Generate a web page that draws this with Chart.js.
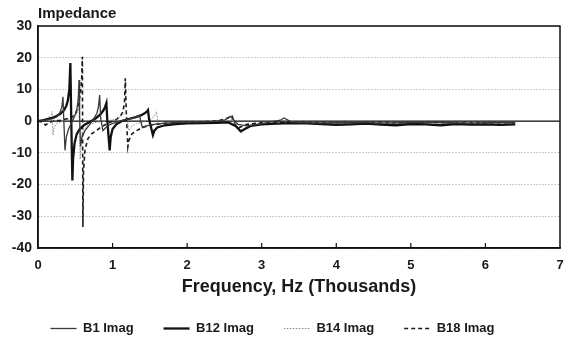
<!DOCTYPE html>
<html>
<head>
<meta charset="utf-8">
<script src="https://cdn.jsdelivr.net/npm/chart.js@4.4.1/dist/chart.umd.min.js"></script>
<style>
html,body{margin:0;padding:0;background:#fff;}
#wrap{width:567px;height:341px;}
</style>
</head>
<body>
<div id="wrap"><canvas id="c" width="567" height="341"></canvas></div>
<script>
// ---- data (frequency in thousands of Hz, impedance imaginary part) ----
const yTickValues = [-40, -30, -20, -10, 0, 10, 20, 30];
const xTickValues = [0, 1, 2, 3, 4, 5, 6, 7];
const seriesNames = ['B1 Imag', 'B12 Imag', 'B14 Imag', 'B18 Imag'];

const b1Freq = [0, 0.1, 0.2, 0.25, 0.29, 0.32, 0.335, 0.345, 0.362, 0.38, 0.41, 0.45, 0.49, 0.52, 0.54, 0.55, 0.558, 0.57, 0.59, 0.63, 0.68, 0.74, 0.79, 0.81, 0.827, 0.84, 0.87, 0.91, 0.97, 1.05, 1.15, 1.25, 1.32, 1.35, 1.363, 1.375, 1.4, 1.45, 1.55, 1.7, 1.9, 2.1, 2.3, 2.5, 2.58, 2.62, 2.68, 2.8, 3.0, 3.25, 3.3, 3.4, 3.7, 4.0, 4.3, 4.6, 4.9, 5.2, 5.5, 5.8, 6.1, 6.4];
const b1Imag = [0, 0.3, 0.8, 1.3, 2.5, 4.5, 7.7, 1, -9.2, -5, -2.5, -0.5, 1.5, 3.5, 7, 13, 2, -8, -5, -3, -1.5, 0.5, 2.5, 4.5, 8.2, 1, -3, -2, -1, -0.3, 0.3, 0.8, 1.4, 1.7, 1.9, 0.2, -2, -1.5, -1, -0.6, -0.4, -0.3, -0.2, 0.3, 1.5, 0.5, -1, -1.5, -0.8, 0.3, 1, -0.3, -0.6, -0.5, -0.4, -0.6, -0.5, -0.3, -0.5, -0.6, -0.4, -0.5];

const b12Freq = [0, 0.05, 0.1, 0.15, 0.2, 0.25, 0.3, 0.35, 0.38, 0.4, 0.42, 0.434, 0.445, 0.461, 0.47, 0.49, 0.52, 0.56, 0.62, 0.7, 0.78, 0.84, 0.88, 0.9, 0.917, 0.93, 0.961, 0.975, 1.0, 1.05, 1.12, 1.2, 1.3, 1.38, 1.43, 1.46, 1.475, 1.49, 1.541, 1.56, 1.6, 1.7, 1.85, 2.0, 2.2, 2.4, 2.55, 2.65, 2.72, 2.78, 2.85, 3.0, 3.2, 3.4, 3.6, 3.8, 4.0, 4.2, 4.4, 4.6, 4.8, 5.0, 5.2, 5.4, 5.6, 5.8, 6.0, 6.2, 6.4];
const b12Imag = [0, 0.2, 0.5, 0.8, 1.1, 1.6, 2.3, 3.5, 4.8, 6.5, 10, 18.3, 2, -18.7, -12, -7, -4, -2.5, -1.2, -0.2, 1, 2.2, 3.5, 4.5, 5.7, 0, -9.2, -5, -2.5, -1, 0, 0.6, 1.2, 1.8, 2.5, 3, 3.5, 0.5, -4.4, -3, -2, -1.3, -0.9, -0.7, -0.6, -0.5, -0.4, -1.5, -3.2, -2.4, -1.5, -1, -0.8, -0.6, -0.7, -0.9, -1.2, -1, -0.8, -1.1, -1.3, -0.9, -1, -1.3, -0.9, -1.1, -1, -1.2, -1];

const b14Freq = [0, 0.05, 0.1, 0.15, 0.175, 0.19, 0.2, 0.215, 0.25, 0.3, 0.35, 0.4, 0.45, 0.5, 0.53, 0.55, 0.555, 0.565, 0.58, 0.61, 0.66, 0.72, 0.8, 0.9, 1.0, 1.08, 1.14, 1.18, 1.2, 1.22, 1.26, 1.32, 1.4, 1.5, 1.56, 1.59, 1.61, 1.66, 1.75, 1.9, 2.1, 2.3, 2.5, 2.6, 2.66, 2.72, 2.78, 2.9, 3.1, 3.4, 3.8, 4.2, 4.6, 5.0, 5.4, 5.8, 6.2, 6.4];
const b14Imag = [0, 0.2, 0.5, 1.2, 2, 3, -4.4, -2, -0.8, -0.3, 0, 0.5, 1, 1.8, 2.8, 5, 0, -12, -6, -3, -1.5, -0.8, -0.3, 0, 0.4, 1, 2, 3, 0, -3, -1.5, -0.8, -0.3, 0.5, 1.5, 3, -0.5, -1.5, -0.8, -0.5, -0.4, -0.3, -0.2, 0.5, -1.5, -3.8, -2.5, -1.2, -0.7, -0.5, -0.6, -0.7, -0.5, -0.6, -0.5, -0.6, -0.5, -0.5];

const b18Freq = [0, 0.05, 0.1, 0.15, 0.2, 0.3, 0.4, 0.45, 0.5, 0.54, 0.57, 0.585, 0.595, 0.602, 0.61, 0.63, 0.67, 0.72, 0.78, 0.85, 0.95, 1.05, 1.1, 1.14, 1.16, 1.171, 1.185, 1.205, 1.22, 1.26, 1.32, 1.4, 1.5, 1.65, 1.8, 2.0, 2.2, 2.4, 2.55, 2.6, 2.64, 2.7, 2.8, 3.0, 3.3, 3.6, 4.0, 4.4, 4.8, 5.2, 5.6, 6.0, 6.4];
const b18Imag = [0, -0.3, -1.2, -0.5, 0, 0.3, 0.8, 1.2, 2, 5, 9, 13, 20.3, -33.4, -16, -9, -5.5, -4, -3, -1.8, -0.5, 0.5, 1.5, 3, 6, 13.5, 2, -8.1, -6, -4, -3, -2, -1.3, -0.8, -0.5, -0.3, -0.2, 0, 1, 1.8, -1, -2, -1, -0.5, -0.3, -0.4, -0.5, -0.4, -0.5, -0.4, -0.5, -0.5, -0.5];

function pts(fs, vs) { return fs.map((f, i) => ({x: f, y: vs[i]})); }

const FONT = "'Liberation Sans', Arial, Helvetica, sans-serif";

const decor = {
  id: 'decor',
  afterLayout(chart) {
    if (chart.legend) { chart.legend.left -= 10; chart.legend.right -= 10; }
  },
  beforeDatasetsDraw(chart) {
    const {ctx, chartArea: a, scales: {y}} = chart;
    const y0 = y.getPixelForValue(0);
    ctx.save();
    ctx.strokeStyle = '#111';
    ctx.lineWidth = 1.3;
    ctx.beginPath(); ctx.moveTo(a.left, y0); ctx.lineTo(a.right, y0); ctx.stroke();
    ctx.restore();
  },
  afterDraw(chart) {
    const {ctx, chartArea: a, scales: {x}} = chart;
    ctx.save();
    ctx.strokeStyle = '#111';
    ctx.lineWidth = 1.5;
    ctx.strokeRect(a.left, a.top, a.right - a.left, a.bottom - a.top);
    ctx.lineWidth = 1.2;
    xTickValues.slice(1, -1).forEach(v => {
      const px = x.getPixelForValue(v);
      ctx.beginPath(); ctx.moveTo(px, a.bottom); ctx.lineTo(px, a.bottom - 5); ctx.stroke();
    });
    ctx.fillStyle = '#1a1a1a';
    ctx.font = 'bold 15px ' + FONT;
    ctx.textAlign = 'left';
    ctx.textBaseline = 'alphabetic';
    ctx.fillText('Impedance', a.left, 18);
    ctx.restore();
  }
};

new Chart(document.getElementById('c'), {
  type: 'line',
  data: {
    datasets: [
      {label: seriesNames[0], data: pts(b1Freq, b1Imag), borderColor: '#3a3a3a', borderWidth: 1.3, backgroundColor: '#3a3a3a'},
      {label: seriesNames[1], data: pts(b12Freq, b12Imag), borderColor: '#111', borderWidth: 2.3, backgroundColor: '#111'},
      {label: seriesNames[2], data: pts(b14Freq, b14Imag), borderColor: '#8a8a8a', borderWidth: 1, borderDash: [1.5, 1.5], backgroundColor: '#8a8a8a'},
      {label: seriesNames[3], data: pts(b18Freq, b18Imag), borderColor: '#1a1a1a', borderWidth: 1.6, borderDash: [4, 3], backgroundColor: '#1a1a1a'}
    ]
  },
  options: {
    responsive: false,
    animation: false,
    devicePixelRatio: 1,
    elements: {point: {radius: 0}, line: {tension: 0}},
    layout: {padding: {top: 26, right: 2, bottom: -4, left: 0}},
    plugins: {
      tooltip: {enabled: false},
      legend: {
        position: 'bottom',
        labels: {
          usePointStyle: true,
          pointStyle: 'line',
          pointStyleWidth: 26,
          padding: 30,
          color: '#1a1a1a',
          font: {family: FONT, size: 13, weight: 'bold'},
          generateLabels(chart) {
            const items = Chart.defaults.plugins.legend.labels.generateLabels(chart);
            items.forEach(it => {
              const ds = chart.data.datasets[it.datasetIndex];
              it.lineDash = ds.borderDash || [];
              it.lineWidth = ds.borderWidth;
              it.strokeStyle = ds.borderColor;
              it.fillStyle = ds.borderColor;
              it.pointStyle = 'line';
            });
            return items;
          }
        }
      }
    },
    scales: {
      x: {
        type: 'linear',
        min: 0, max: 7,
        afterBuildTicks(scale) { scale.ticks = xTickValues.map(v => ({value: v})); },
        afterFit(scale) { scale.height = 44; scale.paddingRight = 7; scale.paddingLeft = 0; },
        ticks: {color: '#1a1a1a', padding: 10, font: {family: FONT, size: 13, weight: 'bold'}, callback: v => String(v)},
        grid: {drawOnChartArea: false, drawTicks: false},
        border: {display: true, color: '#111', width: 1.5},
        title: {display: true, text: 'Frequency, Hz (Thousands)', color: '#1a1a1a', padding: {top: 2, bottom: -6}, font: {family: FONT, size: 18, weight: 'bold'}}
      },
      y: {
        min: -40, max: 30,
        afterBuildTicks(scale) { scale.ticks = yTickValues.map(v => ({value: v})); },
        afterFit(scale) { scale.width = 38; },
        ticks: {color: '#1a1a1a', padding: 6, font: {family: FONT, size: 14, weight: 'bold'}, callback: v => String(v)},
        grid: {color: '#9a9a9a', lineWidth: 1, drawTicks: false},
        border: {display: true, color: '#111', width: 1.5, dash: [1, 2]}
      }
    }
  },
  plugins: [decor]
});
</script>
</body>
</html>
